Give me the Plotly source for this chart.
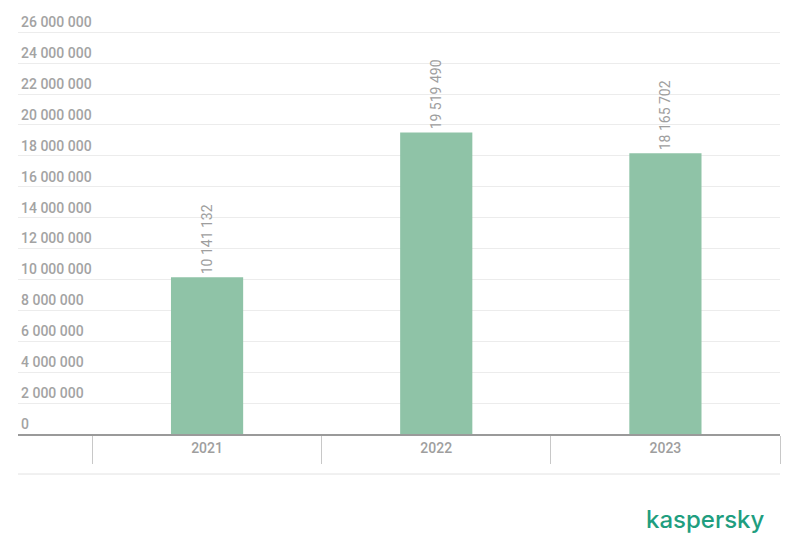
import plotly.graph_objects as go

years = ["2021", "2022", "2023"]
values = [10141132, 19519490, 18165702]
tick_vals = list(range(0, 26000001, 2000000))

fig = go.Figure()
fig.add_trace(go.Bar(
    x=years, y=values,
    marker=dict(color="#8fc3a7", line=dict(width=0)),
    width=0.315,
    text=values,
    texttemplate="%{y:,d}",
    textposition="outside",
    textangle=-90,
    textfont=dict(family="Roboto", size=14, color="#9e9e9e"),
    cliponaxis=False,
    hoverinfo="skip",
))

fig.update_layout(
    width=791, height=542,
    margin=dict(l=10, r=19, t=23, b=116),
    paper_bgcolor="white", plot_bgcolor="white",
    separators=". ",
    showlegend=False,
    font=dict(family="Roboto", color="#9e9e9e"),
    xaxis=dict(
        type="category",
        range=[-0.825, 2.5],
        automargin=False,
        tickson="boundaries",
        ticks="outside",
        ticklen=28,
        tickwidth=1,
        tickcolor="#c8c8c8",
        showline=True, linecolor="#9a9a9a", linewidth=2,
        showgrid=False,
        tickfont=dict(family="Roboto", size=14, color="#9e9e9e", weight=500),
    ),
    yaxis=dict(
        range=[0, 26080000],
        automargin=False,
        tickvals=tick_vals,
        tickformat=",d",
        ticklabelposition="inside",
        ticklabelshift=-10,
        ticklabelstandoff=0,
        ticklabeloverflow="allow",
        showgrid=True, gridcolor="#ececec", gridwidth=1,
        zeroline=False,
        tickfont=dict(family="Roboto", size=14, color="#a3a3a3", weight=500),
    ),
    shapes=[dict(type="line", xref="paper", yref="paper",
                 x0=0, x1=1, y0=-0.0993, y1=-0.0993,
                 line=dict(color="#e3e3e3", width=1))],
    annotations=[dict(text="kaspersky", xref="paper", yref="paper",
                      x=0.983, y=-0.212, xanchor="right", yanchor="middle",
                      showarrow=False,
                      font=dict(family="Inter", size=24, color="#1f9e7f", weight=500))],
)

fig.write_html("out.html")
